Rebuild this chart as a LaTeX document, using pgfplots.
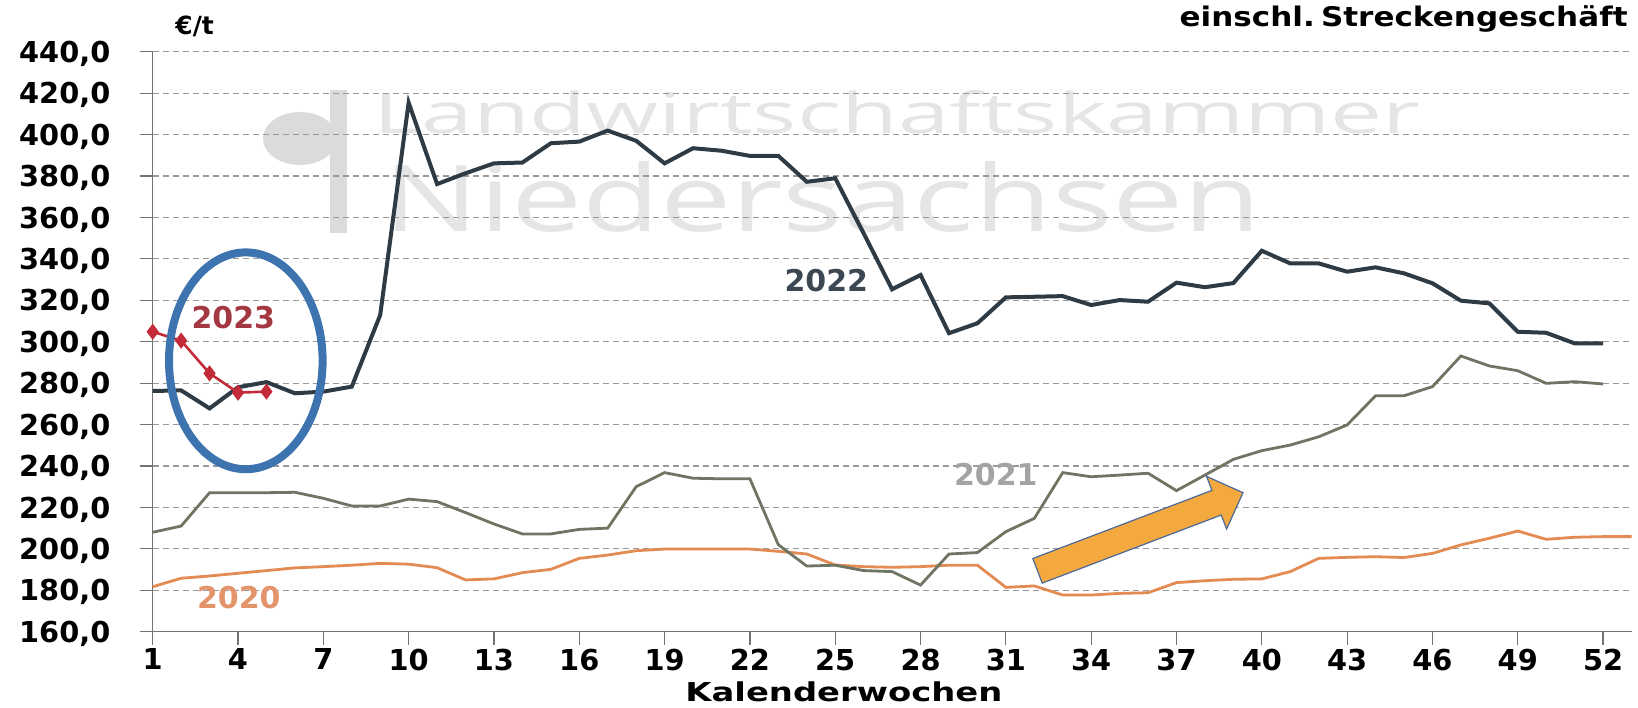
\documentclass[border=0pt]{standalone}
\usepackage{pgfplots}
\pgfplotsset{compat=1.18}
\usepackage{fontspec}
\usepackage{graphicx}
\setmainfont{DejaVu Sans}
\newfontfamily\wmfont{Open Sans}

\definecolor{c2022}{HTML}{2E3B44}
\definecolor{l2022}{HTML}{3B4752}
\definecolor{c2021}{HTML}{6E7562}
\definecolor{l2021}{HTML}{A3A3A3}
\definecolor{c2020}{HTML}{E38B52}
\definecolor{l2020}{HTML}{E3946A}
\definecolor{c2023}{HTML}{C22B37}
\definecolor{l2023}{HTML}{A33843}
\definecolor{cell}{HTML}{3D74B0}
\definecolor{carrow}{HTML}{F3A93E}
\definecolor{carrowb}{HTML}{4B6A9A}

\pgfplotstableread{
w v
1 181.7
2 185.8
3 186.9
4 188.2
5 189.5
6 190.8
7 191.4
8 192.1
9 193.0
10 192.6
11 190.9
12 185.0
13 185.5
14 188.5
15 190.1
16 195.4
17 197.0
18 199.1
19 199.9
20 199.9
21 199.9
22 199.9
23 198.8
24 197.5
25 192.2
26 191.4
27 191.1
28 191.4
29 192.1
30 192.1
31 181.4
32 182.1
33 177.7
34 177.7
35 178.5
36 178.8
37 183.7
38 184.6
39 185.3
40 185.5
41 189.0
42 195.4
43 195.9
44 196.2
45 195.8
46 197.8
47 201.9
48 205.1
49 208.6
50 204.6
51 205.6
52 205.9
53 205.9
}\dataA

\pgfplotstableread{
w v
1 208.0
2 211.0
3 227.1
4 227.1
5 227.1
6 227.3
7 224.4
8 220.7
9 220.7
10 224.0
11 222.8
12 217.5
13 212.0
14 207.2
15 207.2
16 209.4
17 210.0
18 230.0
19 236.8
20 234.1
21 233.8
22 233.8
23 202.0
24 191.7
25 192.1
26 189.5
27 189.0
28 182.5
29 197.5
30 198.2
31 208.3
32 214.7
33 236.8
34 234.8
35 235.6
36 236.5
37 228.1
38 235.6
39 243.2
40 247.4
41 250.1
42 254.1
43 259.8
44 273.9
45 273.9
46 278.3
47 293.1
48 288.3
49 286.0
50 279.9
51 280.7
52 279.6
}\dataB

\pgfplotstableread{
w v
1 276.2
2 276.5
3 267.8
4 278.0
5 280.5
6 275.1
7 275.9
8 278.3
9 312.9
10 415.4
11 376.1
12 381.3
13 386.1
14 386.5
15 395.8
16 396.6
17 401.9
18 397.0
19 386.1
20 393.4
21 392.2
22 389.7
23 389.7
24 377.2
25 378.9
26 352.3
27 325.3
28 332.2
29 304.1
30 308.9
31 321.4
32 321.7
33 322.0
34 317.7
35 320.1
36 319.3
37 328.5
38 326.3
39 328.3
40 343.9
41 337.8
42 337.8
43 333.8
44 335.9
45 333.0
46 328.2
47 319.8
48 318.5
49 304.8
50 304.3
51 299.2
52 299.2
}\dataC

\pgfplotstableread{
w v
1 304.8
2 300.5
3 284.7
4 275.4
5 275.9
}\dataD

\begin{document}
\begin{tikzpicture}
\path[use as bounding box] (0pt,0pt) rectangle (819pt,353.5pt);
% watermark
\fill[black!14] (150pt,284.25pt) ellipse [x radius=18.5pt, y radius=13.25pt];
\fill[black!14] (165pt,237pt) rectangle (173.5pt,308.5pt);
\node[anchor=base west, inner sep=0pt, text=black!10] at (186.5pt,286.85pt) {\resizebox{523.5pt}{21.5pt}{\wmfont Landwirtschaftskammer}};
\node[anchor=base west, inner sep=0pt, text=black!10] at (191.5pt,237.65pt) {\resizebox{439pt}{35pt}{\wmfont Niedersachsen}};

\begin{axis}[
  at={(76.35pt,37.65pt)}, anchor=south west,
  scale only axis, width=739.4pt, height=290pt,
  xmin=1, xmax=53, ymin=160, ymax=440,
  xtick={1,4,...,52}, ytick={160,180,...,440},
  axis x line*=bottom, axis y line*=left,
  axis line style={black!55, line width=0.6pt, -},
  tick align=outside, major tick length=6.5pt,
  tick style={black!55, line width=0.6pt},
  ymajorgrids, grid style={dash pattern=on 3pt off 2pt, black!40, line width=0.55pt},
  /pgf/number format/assume math mode=true,
  yticklabel style={
    /pgf/number format/fixed,
    /pgf/number format/fixed zerofill,
    /pgf/number format/precision=1,
    /pgf/number format/use comma,
    /pgf/number format/1000 sep={}},
  tick label style={font=\fontsize{14.4}{14.4}\selectfont\bfseries},
  yticklabel style={anchor=east, inner sep=0pt, text depth=0pt, xshift=-14.5pt},
  xticklabel style={anchor=north, inner sep=0pt, yshift=-1.8pt},
  xlabel={\scalebox{1.3}[1]{\fontsize{13}{13}\selectfont\bfseries Kalenderwochen}},
  every axis x label/.style={at={(axis description cs:0.4674,-0.1207)}, anchor=base, inner sep=0pt},
  ylabel={\fontsize{12.5}{12.5}\selectfont\bfseries €/t},
  every axis y label/.style={at={(axis description cs:0.0151,1.0288)}, anchor=base west, inner sep=0pt},
  title={\scalebox{1.15}[1]{\fontsize{13.5}{13.5}\selectfont\bfseries einschl.\hspace{0.2em}Streckengeschäft}},
  every axis title/.style={at={(axis description cs:0.9976,1.0431)}, anchor=base east, inner sep=0pt},
  clip=false,
]
\addplot[c2020, line width=1.4pt, mark=none] table[x=w, y=v] {\dataA};
\addplot[c2021, line width=1.4pt, mark=none] table[x=w, y=v] {\dataB};
\addplot[c2022, line width=2pt, mark=none] table[x=w, y=v] {\dataC};
\addplot[c2023, line width=1.3pt, mark=diamond*, mark size=3pt, mark options={solid, fill=c2023, draw=c2023}] table[x=w, y=v] {\dataD};
\end{axis}

% annotations
\draw[cell, line width=4pt] (122.9pt,173.1pt) ellipse [x radius=38.4pt, y radius=54.2pt];
\filldraw[fill=carrow, draw=carrowb, line width=0.6pt, line join=miter]
  (516.4pt,74.25pt) -- (605.95pt,108.3pt) -- (603.3pt,115.3pt) -- (621.5pt,107.15pt)
  -- (613.3pt,89.0pt) -- (610.65pt,96.0pt) -- (521.1pt,61.95pt) -- cycle;

\node[text=l2023, inner sep=0pt, text depth=0pt, font=\fontsize{15}{15}\selectfont\bfseries] at (116.65pt,194.75pt) {2023};
\node[text=l2020, inner sep=0pt, text depth=0pt, font=\fontsize{15}{15}\selectfont\bfseries] at (119.4pt,54.75pt) {2020};
\node[text=l2022, inner sep=0pt, text depth=0pt, font=\fontsize{15}{15}\selectfont\bfseries] at (413.15pt,213.1pt) {2022};
\node[text=l2021, inner sep=0pt, text depth=0pt, font=\fontsize{15}{15}\selectfont\bfseries] at (497.9pt,116.4pt) {2021};
\end{tikzpicture}
\end{document}
